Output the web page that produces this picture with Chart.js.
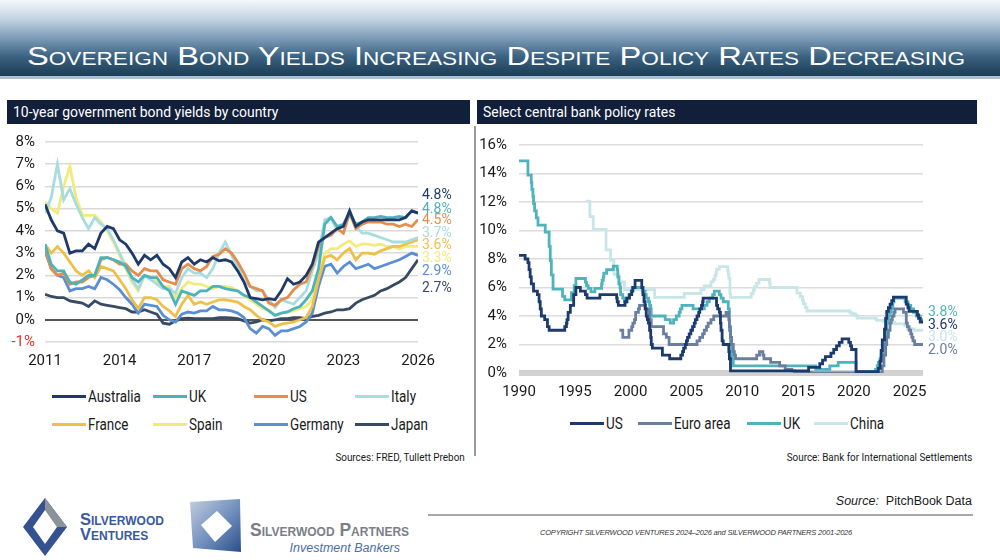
<!DOCTYPE html>
<html>
<head>
<meta charset="utf-8">
<script src="https://cdn.jsdelivr.net/npm/chart.js@4.4.1/dist/chart.umd.min.js"></script>
<style>
  body { margin:0; width:1000px; height:560px; background:#fff; position:relative; overflow:hidden;
         font-family:Roboto,'Liberation Sans',sans-serif; color:#1a1a1a; }
  .band { position:absolute; left:0; top:0; width:1000px; height:76px;
          background:linear-gradient(#f5f8fb 0%, #c3d3e2 25%, #7d9cb8 50%, #3a6180 75%, #1c3d54 100%); }
  .bandline { position:absolute; left:0; top:76px; width:1000px; height:3px; background:#a8c0d2; }
  .title { position:absolute; left:27px; top:43px; color:#fff; font-size:26px; line-height:26px; font-variant:small-caps;
           font-family:'Liberation Sans',Arial,sans-serif; white-space:nowrap; transform-origin:0 0; }
  .hdr { position:absolute; top:100px; height:24px; background:#111f3b; color:#fff; font-size:15.5px;
         line-height:24px; padding-left:6px; box-sizing:border-box; white-space:nowrap; }
  .sq { display:inline-block; transform-origin:0 50%; transform:scaleX(0.9); }
  .divider { position:absolute; left:474px; top:126px; width:2px; height:330px; background:#9a9a9a; }
  canvas { position:absolute; }
  .legend { position:absolute; font-size:16px; }
  .item { position:absolute; white-space:nowrap; line-height:20px; }
  .item i { display:inline-block; width:34px; height:3px; vertical-align:middle; margin-right:2px; position:relative; top:-1px; }
  .item span { display:inline-block; transform:scaleX(0.84); transform-origin:0 50%; }
  .src { position:absolute; font-size:11px; white-space:nowrap; }
  .src span { display:inline-block; transform:scaleX(0.9); transform-origin:100% 50%; }
  .foot { position:absolute; white-space:nowrap; }
</style>
</head>
<body>
<div class="band"></div>
<div class="bandline"></div>
<div class="title" id="title">Sovereign Bond Yields Increasing Despite Policy Rates Decreasing</div>

<div class="hdr" style="left:7px;width:463px;"><span class="sq">10-year government bond yields by country</span></div>
<div class="hdr" style="left:477px;width:500px;"><span class="sq">Select central bank policy rates</span></div>
<div class="divider"></div>

<canvas id="bondChart" width="465" height="249" style="left:5px;top:123px;"></canvas>
<canvas id="rateChart" width="507" height="282" style="left:478px;top:124px;"></canvas>

<div class="legend" id="bondLegend" style="left:52px;top:387px;"></div>
<div class="legend" id="rateLegend" style="left:0;top:414px;"></div>

<div class="src" style="right:535px;top:451px;"><span>Sources: FRED, Tullett Prebon</span></div>
<div class="src" style="right:28px;top:451px;"><span>Source: Bank for International Settlements</span></div>

<div class="foot" style="right:28px;top:494px;font-size:12.5px;font-family:'Liberation Sans','DejaVu Sans',sans-serif;"><i>Source:</i>&nbsp; PitchBook Data</div>
<div style="position:absolute;left:428px;top:514px;width:545px;height:2px;background:#a8a8a8;"></div>
<div class="foot" style="left:540px;top:528px;font-size:7.5px;font-style:italic;font-family:'Liberation Sans',sans-serif;color:#333;letter-spacing:-0.2px;">COPYRIGHT SILVERWOOD VENTURES 2024–2026 and SILVERWOOD PARTNERS 2001-2026</div>

<svg style="position:absolute;left:0;top:490px;" width="430" height="70">
  <defs>
    <linearGradient id="pg" x1="0" y1="0" x2="1" y2="1">
      <stop offset="0" stop-color="#c3cee0"/>
      <stop offset="0.55" stop-color="#6f8dbd"/>
      <stop offset="1" stop-color="#2c4d8a"/>
    </linearGradient>
  </defs>
  <polygon points="45,8 67,37 45,66 23,37" fill="#34528f"/>
  <polygon points="45,8 67,37 57,37 45,20" fill="#8c9399"/>
  <polygon points="45,20 57,37 45,54 33,37" fill="#fff"/>
  <text x="80" y="35" font-family="Liberation Sans,DejaVu Sans,sans-serif" font-weight="bold" font-size="16.5" fill="#3a5a9c" style="font-variant:small-caps">Silverwood</text>
  <text x="80" y="50" font-family="Liberation Sans,DejaVu Sans,sans-serif" font-weight="bold" font-size="16.5" fill="#3a5a9c" style="font-variant:small-caps">Ventures</text>
  <polygon points="190,12 240,9 241,62 193,58" fill="url(#pg)"/>
  <polygon points="217,21 232,36 215,52 201,35" fill="#fff"/>
  <text x="250" y="46" font-family="Liberation Sans,DejaVu Sans,sans-serif" font-weight="bold" font-size="17.5" fill="#7b8087" style="font-variant:small-caps">Silverwood Partners</text>
  <text x="400" y="62" text-anchor="end" font-family="Liberation Sans,DejaVu Sans,sans-serif" font-style="italic" font-size="12.5" fill="#4a6fa5">Investment Bankers</text>
</svg>

<script>
// ---------- left chart: 10y yields, quarterly, 2011 -> 2026 ----------
const bondNames = ['Australia', 'UK', 'US', 'Italy', 'France', 'Spain', 'Germany', 'Japan'];
const bondColors = ['#1e3a6b', '#4cb2bb', '#e48d4c', '#a9dcdf', '#eec04a', '#f3ea7c', '#5b8fd3', '#394a63'];
const bondXTicks = [2011, 2014, 2017, 2020, 2023, 2026];
const bondYTicks = [-1, 0, 1, 2, 3, 4, 5, 6, 7, 8];

const australia = [5.2, 4.5, 4.0, 3.9, 3.0, 3.1, 3.1, 3.4, 3.2, 3.9, 4.2, 4.1, 3.6, 3.4, 3.0, 2.5, 2.9, 2.7, 2.9, 2.5,
  2.3, 1.9, 2.6, 2.8, 2.5, 2.7, 2.6, 2.8, 2.65, 2.7, 2.6, 2.2, 1.7, 1.0, 0.95, 0.9, 0.95, 0.9, 1.3, 1.85,
  1.6, 1.7, 2.0, 2.5, 3.5, 3.7, 3.9, 4.1, 4.2, 4.9, 4.2, 4.4, 4.5, 4.5, 4.5, 4.5, 4.5, 4.5, 4.6, 4.9, 4.8];
const uk = [3.4, 2.5, 2.2, 2.2, 1.7, 1.6, 1.8, 2.0, 2.0, 2.8, 2.8, 2.7, 2.6, 2.4, 1.9, 1.7, 2.0, 1.9, 1.9, 1.5,
  1.3, 0.7, 1.3, 1.2, 1.1, 1.3, 1.3, 1.5, 1.5, 1.4, 1.35, 1.3, 1.1, 1.0, 0.8, 0.6, 0.4, 0.2, 0.3, 0.35,
  0.5, 0.6, 0.9, 1.3, 2.3, 4.3, 4.6, 4.2, 4.3, 4.8, 4.3, 4.4, 4.6, 4.6, 4.65, 4.6, 4.6, 4.65, 4.6, 4.9, 4.8];
const us = [3.2, 2.3, 2.0, 2.1, 1.6, 1.7, 1.7, 1.9, 2.0, 2.7, 2.8, 2.7, 2.5, 2.5, 2.2, 2.0, 2.3, 2.2, 2.2, 1.8,
  1.7, 1.6, 2.3, 2.5, 2.3, 2.2, 2.4, 2.85, 2.95, 3.2, 3.0, 2.6, 2.1, 1.5, 1.4, 1.3, 0.75, 0.65, 0.9, 1.0,
  1.35, 1.6, 1.7, 2.4, 3.3, 3.7, 3.8, 4.1, 3.9, 4.8, 4.1, 4.3, 4.4, 4.4, 4.4, 4.3, 4.3, 4.2, 4.3, 4.2, 4.5];
const italy = [4.8, 5.5, 7.0, 5.4, 5.9, 5.2, 4.6, 4.1, 4.6, 4.3, 4.1, 3.6, 3.0, 2.4, 1.8, 1.4, 2.0, 1.8, 1.6, 1.4,
  1.4, 1.2, 1.9, 2.3, 2.1, 2.1, 1.9, 2.3, 3.0, 3.5, 2.9, 2.4, 1.75, 1.5, 1.3, 1.3, 0.9, 0.55, 0.9, 0.8,
  0.7, 1.0, 1.3, 2.2, 3.0, 4.5, 4.6, 4.0, 4.3, 4.9, 4.2, 3.9, 3.9, 3.8, 3.7, 3.6, 3.5, 3.5, 3.5, 3.6, 3.7];
const france = [3.4, 3.0, 3.3, 3.0, 2.6, 2.2, 2.0, 2.2, 1.9, 2.4, 2.3, 2.2, 1.8, 1.4, 0.9, 0.5, 1.0, 1.0, 0.9, 0.6,
  0.4, 0.15, 0.7, 1.1, 0.7, 0.8, 0.7, 0.8, 0.9, 0.9, 0.85, 0.8, 0.6, 0.45, 0.2, 0.0, -0.1, -0.3, -0.2, -0.15,
  -0.1, 0.0, 0.1, 0.6, 1.8, 2.8, 2.9, 2.7, 3.0, 3.2, 2.7, 3.0, 3.0, 2.95, 3.1, 3.2, 3.3, 3.3, 3.4, 3.5, 3.6];
const spain = [5.3, 5.0, 4.8, 6.0, 6.9, 5.5, 4.7, 4.7, 4.7, 4.4, 4.0, 3.5, 2.9, 2.3, 1.7, 1.3, 2.0, 1.9, 1.7, 1.5,
  1.5, 1.0, 1.4, 1.7, 1.6, 1.6, 1.5, 1.4, 1.5, 1.5, 1.45, 1.3, 1.1, 0.9, 0.7, 0.5, 0.45, 0.2, 0.3, 0.35,
  0.4, 0.5, 0.6, 0.9, 2.0, 3.0, 3.2, 3.2, 3.4, 3.55, 3.3, 3.4, 3.4, 3.35, 3.4, 3.3, 3.3, 3.2, 3.3, 3.3, 3.3];
const germany = [3.1, 2.3, 2.0, 1.9, 1.3, 1.4, 1.4, 1.5, 1.4, 1.9, 1.8, 1.6, 1.35, 1.0, 0.7, 0.3, 0.7, 0.65, 0.6, 0.2,
  0.0, -0.1, 0.25, 0.35, 0.3, 0.4, 0.4, 0.6, 0.45, 0.45, 0.4, 0.3, 0.1, -0.4, -0.6, -0.3, -0.4, -0.7, -0.5, -0.5,
  -0.4, -0.3, -0.1, 0.3, 1.5, 2.4, 2.5, 2.1, 2.4, 2.6, 2.3, 2.4, 2.5, 2.3, 2.4, 2.5, 2.6, 2.7, 2.85, 3.0, 2.9];
const japan = [1.15, 1.05, 1.0, 1.0, 0.85, 0.8, 0.75, 0.6, 0.85, 0.7, 0.65, 0.6, 0.55, 0.5, 0.35, 0.35, 0.45, 0.35, 0.25, -0.15,
  -0.2, -0.05, 0.05, 0.07, 0.05, 0.05, 0.05, 0.05, 0.1, 0.1, 0.08, 0.05, -0.05, -0.15, -0.1, 0.0, -0.05, 0.0, 0.05, 0.05,
  0.1, 0.1, 0.05, 0.15, 0.2, 0.3, 0.35, 0.45, 0.45, 0.5, 0.75, 0.9, 1.0, 1.1, 1.3, 1.4, 1.55, 1.7, 1.9, 2.3, 2.7];
const bondValues = [australia, uk, us, italy, france, spain, germany, japan];
// pixel nudges for the end-of-line labels so they don't overlap
const bondLabelShift = [-18, -4, 1, -4, 6, 12, 16, 29];

// ---------- right chart: policy rates, [year, rate] at each change ----------
const rateNames = ['US', 'Euro area', 'UK', 'China'];
const rateColors = ['#1c3a6e', '#6a7f9f', '#4fb3bb', '#c6e6e8'];
const rateXTicks = [1990, 1995, 2000, 2005, 2010, 2015, 2020, 2025];
const rateYTicks = [0, 2, 4, 6, 8, 10, 12, 14, 16];

const usSteps = [[1990.0, 8.25], [1990.55, 8.0], [1990.8, 7.75], [1990.9, 7.25], [1991.0, 6.75], [1991.1, 6.25],
  [1991.3, 5.75], [1991.65, 5.5], [1991.8, 5.0], [1991.9, 4.5], [1992.0, 4.0], [1992.3, 3.75], [1992.55, 3.25],
  [1992.7, 3.0], [1994.1, 3.25], [1994.25, 3.5], [1994.3, 3.75], [1994.4, 4.25], [1994.6, 4.75], [1994.9, 5.5],
  [1995.1, 6.0], [1995.5, 5.75], [1995.95, 5.5], [1996.1, 5.25], [1997.25, 5.5], [1998.75, 5.25], [1998.8, 5.0],
  [1998.9, 4.75], [1999.5, 5.0], [1999.65, 5.25], [1999.9, 5.5], [2000.1, 5.75], [2000.2, 6.0], [2000.4, 6.5],
  [2001.0, 6.0], [2001.1, 5.5], [2001.2, 5.0], [2001.3, 4.5], [2001.4, 4.0], [2001.5, 3.75], [2001.6, 3.5],
  [2001.7, 3.0], [2001.8, 2.5], [2001.85, 2.0], [2001.95, 1.75], [2002.85, 1.25], [2003.5, 1.0], [2004.5, 1.25],
  [2004.65, 1.5], [2004.75, 1.75], [2004.9, 2.0], [2005.0, 2.25], [2005.1, 2.5], [2005.25, 2.75], [2005.4, 3.0],
  [2005.55, 3.25], [2005.7, 3.5], [2005.8, 3.75], [2005.95, 4.0], [2006.1, 4.25], [2006.2, 4.5], [2006.35, 4.75],
  [2006.45, 5.0], [2006.5, 5.25], [2007.7, 4.75], [2007.8, 4.5], [2007.95, 4.25], [2008.05, 3.5], [2008.1, 3.0],
  [2008.2, 2.25], [2008.3, 2.0], [2008.8, 1.5], [2008.85, 1.0], [2008.95, 0.15], [2015.95, 0.4], [2016.95, 0.65],
  [2017.2, 0.9], [2017.45, 1.15], [2017.95, 1.4], [2018.2, 1.65], [2018.45, 1.9], [2018.7, 2.15], [2018.95, 2.4],
  [2019.55, 2.15], [2019.7, 1.9], [2019.8, 1.65], [2020.2, 0.1], [2022.2, 0.33], [2022.35, 0.83], [2022.45, 1.58],
  [2022.55, 2.33], [2022.75, 3.08], [2022.85, 3.83], [2022.95, 4.33], [2023.1, 4.58], [2023.25, 4.83],
  [2023.4, 5.08], [2023.55, 5.33], [2024.7, 4.83], [2024.85, 4.58], [2024.95, 4.33], [2025.7, 4.08],
  [2025.8, 3.83], [2025.95, 3.58], [2026.2, 3.58]];
const euroSteps = [[1999.0, 3.0], [1999.3, 2.5], [1999.85, 3.0], [2000.1, 3.25], [2000.2, 3.5], [2000.35, 3.75],
  [2000.45, 4.25], [2000.7, 4.5], [2000.8, 4.75], [2001.35, 4.5], [2001.65, 4.25], [2001.7, 3.75], [2001.85, 3.25],
  [2002.95, 2.75], [2003.2, 2.5], [2003.45, 2.0], [2005.95, 2.25], [2006.2, 2.5], [2006.45, 2.75], [2006.6, 3.0],
  [2006.8, 3.25], [2006.95, 3.5], [2007.2, 3.75], [2007.45, 4.0], [2008.55, 4.25], [2008.8, 3.75], [2008.85, 3.25],
  [2008.95, 2.5], [2009.05, 2.0], [2009.2, 1.5], [2009.3, 1.25], [2009.4, 1.0], [2011.3, 1.25], [2011.55, 1.5],
  [2011.85, 1.25], [2011.95, 1.0], [2012.55, 0.75], [2013.35, 0.5], [2013.85, 0.25], [2014.45, 0.15],
  [2014.7, 0.05], [2016.2, 0.0], [2022.55, 0.5], [2022.7, 1.25], [2022.85, 2.0], [2022.95, 2.5], [2023.1, 3.0],
  [2023.25, 3.5], [2023.35, 3.75], [2023.45, 4.0], [2023.6, 4.25], [2023.7, 4.5], [2024.45, 4.25], [2024.7, 3.5],
  [2024.8, 3.25], [2024.95, 3.0], [2025.1, 2.75], [2025.2, 2.5], [2025.3, 2.25], [2025.45, 2.0], [2026.2, 2.0]];
const ukSteps = [[1990.0, 14.88], [1990.8, 13.88], [1991.1, 13.38], [1991.15, 12.88], [1991.25, 12.38],
  [1991.3, 11.88], [1991.4, 11.38], [1991.55, 10.88], [1991.7, 10.38], [1992.35, 9.88], [1992.7, 8.88],
  [1992.8, 7.88], [1992.9, 6.88], [1993.05, 5.88], [1993.9, 5.38], [1994.1, 5.13], [1994.7, 5.63], [1994.95, 6.13],
  [1995.1, 6.63], [1995.95, 6.38], [1996.05, 6.13], [1996.2, 5.94], [1996.45, 5.69], [1996.8, 5.94], [1997.4, 6.25],
  [1997.45, 6.5], [1997.55, 6.75], [1997.6, 7.0], [1997.85, 7.25], [1998.45, 7.5], [1998.8, 7.25], [1998.85, 6.75],
  [1998.95, 6.25], [1999.05, 6.0], [1999.1, 5.5], [1999.3, 5.25], [1999.45, 5.0], [1999.7, 5.25], [1999.85, 5.5],
  [2000.05, 5.75], [2000.15, 6.0], [2001.1, 5.75], [2001.3, 5.5], [2001.4, 5.25], [2001.6, 5.0], [2001.7, 4.75],
  [2001.8, 4.5], [2001.85, 4.0], [2003.1, 3.75], [2003.55, 3.5], [2003.85, 3.75], [2004.1, 4.0], [2004.35, 4.25],
  [2004.45, 4.5], [2004.6, 4.75], [2005.6, 4.5], [2006.6, 4.75], [2006.85, 5.0], [2007.05, 5.25], [2007.35, 5.5],
  [2007.5, 5.75], [2007.95, 5.5], [2008.1, 5.25], [2008.3, 5.0], [2008.75, 4.5], [2008.85, 3.0], [2008.95, 2.0],
  [2009.05, 1.5], [2009.1, 1.0], [2009.2, 0.5], [2016.6, 0.25], [2017.85, 0.5], [2018.6, 0.75], [2020.2, 0.1],
  [2021.95, 0.25], [2022.1, 0.5], [2022.2, 0.75], [2022.35, 1.0], [2022.45, 1.25], [2022.6, 1.75], [2022.75, 2.25],
  [2022.85, 3.0], [2022.95, 3.5], [2023.1, 4.0], [2023.2, 4.25], [2023.35, 4.5], [2023.5, 5.0], [2023.6, 5.25],
  [2024.6, 5.0], [2024.85, 4.75], [2025.1, 4.5], [2025.35, 4.25], [2025.6, 4.0], [2025.95, 3.75], [2026.2, 3.75]];
const chinaSteps = [[1996.0, 12.06], [1996.35, 10.98], [1996.65, 10.08], [1997.8, 8.64], [1998.2, 7.92],
  [1998.5, 6.93], [1998.95, 6.39], [1999.45, 5.85], [2002.15, 5.31], [2004.8, 5.58], [2006.3, 5.85], [2006.6, 6.12],
  [2007.2, 6.39], [2007.4, 6.57], [2007.55, 6.84], [2007.65, 7.02], [2007.7, 7.29], [2007.95, 7.47], [2008.7, 7.2],
  [2008.75, 6.93], [2008.8, 6.66], [2008.9, 5.58], [2008.95, 5.31], [2010.8, 5.56], [2010.98, 5.81], [2011.1, 6.06],
  [2011.3, 6.31], [2011.5, 6.56], [2012.45, 6.31], [2012.5, 6.0], [2014.9, 5.6], [2015.2, 5.35], [2015.4, 5.1],
  [2015.5, 4.85], [2015.65, 4.6], [2015.8, 4.35], [2019.65, 4.25], [2019.72, 4.2], [2019.88, 4.15], [2020.15, 4.05],
  [2020.3, 3.85], [2021.95, 3.8], [2022.05, 3.7], [2022.65, 3.65], [2023.45, 3.55], [2023.65, 3.45], [2024.55, 3.35],
  [2024.8, 3.1], [2025.4, 3.0], [2026.2, 3.0]];
const rateSteps = [usSteps, euroSteps, ukSteps, chinaSteps];
const rateLabelShift = [4, 6, -7, 7];
// where each legend entry starts, in page pixels
const rateLegendLeft = [570, 638, 747, 814];

const FONT = "Roboto,'Liberation Sans',sans-serif";
Chart.defaults.font.family = FONT;
Chart.defaults.color = '#1a1a1a';

// draws the "4.8%" style value at the end of every line
const endLabels = {
    id: 'endLabels',
    afterDatasetsDraw(chart, args, opts) {
        const ctx = chart.ctx;
        const y = chart.scales.y;
        ctx.save();
        ctx.font = opts.size + 'px ' + FONT;
        ctx.textBaseline = 'middle';
        chart.data.datasets.forEach((ds, i) => {
            const last = ds.data[ds.data.length - 1];
            ctx.fillStyle = ds.borderColor;
            ctx.fillText(last.y.toFixed(1) + '%', chart.chartArea.right + opts.gap, y.getPixelForValue(last.y) + opts.shift[i]);
        });
        ctx.restore();
    }
};

function makeLegend(el, names, colors, placeItem) {
    names.forEach((n, i) => {
        const d = document.createElement('div');
        d.className = 'item';
        placeItem(d, i);
        d.innerHTML = '<i style="background:' + colors[i] + '"></i><span>' + n + '</span>';
        el.appendChild(d);
    });
}

// left chart
const bondX = australia.map((v, i) => 2011 + i / 4);
new Chart(document.getElementById('bondChart'), {
    type: 'line',
    data: {
        datasets: bondNames.map((n, i) => ({
            label: n,
            data: bondValues[i].map((v, j) => ({ x: bondX[j], y: v })),
            borderColor: bondColors[i],
            borderWidth: 2.8,
            pointRadius: 0,
            tension: 0
        }))
    },
    options: {
        responsive: false,
        animation: false,
        layout: { padding: { top: 8, right: 52, left: 0, bottom: 0 } },
        plugins: { legend: { display: false }, tooltip: { enabled: false },
                   endLabels: { size: 14, gap: 4, shift: bondLabelShift } },
        scales: {
            x: {
                type: 'linear', min: 2011, max: 2026,
                afterBuildTicks: s => { s.ticks = bondXTicks.map(v => ({ value: v })); },
                afterFit: s => { s.height = 30; },
                grid: { display: false, drawTicks: false }, border: { display: false },
                ticks: { padding: 10, autoSkip: false, font: { size: 15 }, maxRotation: 0, callback: v => String(v) }
            },
            y: {
                min: -1, max: 8,
                afterBuildTicks: s => { s.ticks = bondYTicks.map(v => ({ value: v })); },
                afterFit: s => { s.width = 40; },
                border: { display: false },
                grid: { drawTicks: false, color: c => c.tick.value === 0 ? '#555' : '#d9d9d9',
                        lineWidth: c => c.tick.value === 0 ? 2 : 1.5 },
                ticks: { padding: 10, autoSkip: false, font: { size: 15 },
                         color: c => c.tick.value < 0 ? '#e5322d' : '#1a1a1a', callback: v => v + '%' }
            }
        }
    },
    plugins: [endLabels]
});

// right chart
new Chart(document.getElementById('rateChart'), {
    type: 'line',
    data: {
        datasets: rateNames.map((n, i) => ({
            label: n,
            data: rateSteps[i].map(p => ({ x: p[0], y: p[1] })),
            borderColor: rateColors[i],
            borderWidth: 2.8,
            pointRadius: 0,
            stepped: 'before'
        }))
    },
    options: {
        responsive: false,
        animation: false,
        layout: { padding: { top: 9, right: 62, left: 0, bottom: 0 } },
        plugins: { legend: { display: false }, tooltip: { enabled: false },
                   endLabels: { size: 14, gap: 5, shift: rateLabelShift } },
        scales: {
            x: {
                type: 'linear', min: 1990, max: 2026.2,
                afterBuildTicks: s => { s.ticks = rateXTicks.map(v => ({ value: v })); },
                afterFit: s => { s.height = 33; },
                grid: { display: false, drawTicks: false }, border: { display: false },
                ticks: { padding: 10, autoSkip: false, font: { size: 15 }, maxRotation: 0, callback: v => String(v) }
            },
            y: {
                min: 0, max: 16,
                afterBuildTicks: s => { s.ticks = rateYTicks.map(v => ({ value: v })); },
                afterFit: s => { s.width = 41; },
                border: { display: false },
                grid: { drawTicks: false, color: c => c.tick.value === 0 ? '#d2d2d2' : '#dcdcdc',
                        lineWidth: c => c.tick.value === 0 ? 6 : 1.5 },
                ticks: { padding: 12, autoSkip: false, font: { size: 15 }, callback: v => v + '%' }
            }
        }
    },
    plugins: [endLabels]
});

makeLegend(document.getElementById('bondLegend'), bondNames, bondColors, (d, i) => {
    d.style.left = (i % 4) * 101 + 'px';
    d.style.top = Math.floor(i / 4) * 28 + 'px';
});
makeLegend(document.getElementById('rateLegend'), rateNames, rateColors, (d, i) => {
    d.style.left = rateLegendLeft[i] + 'px';
    d.style.top = '0px';
});

// squeeze the title to the band's width
const title = document.getElementById('title');
title.style.transform = 'scaleX(' + (938 / title.getBoundingClientRect().width) + ')';
</script>
</body>
</html>
